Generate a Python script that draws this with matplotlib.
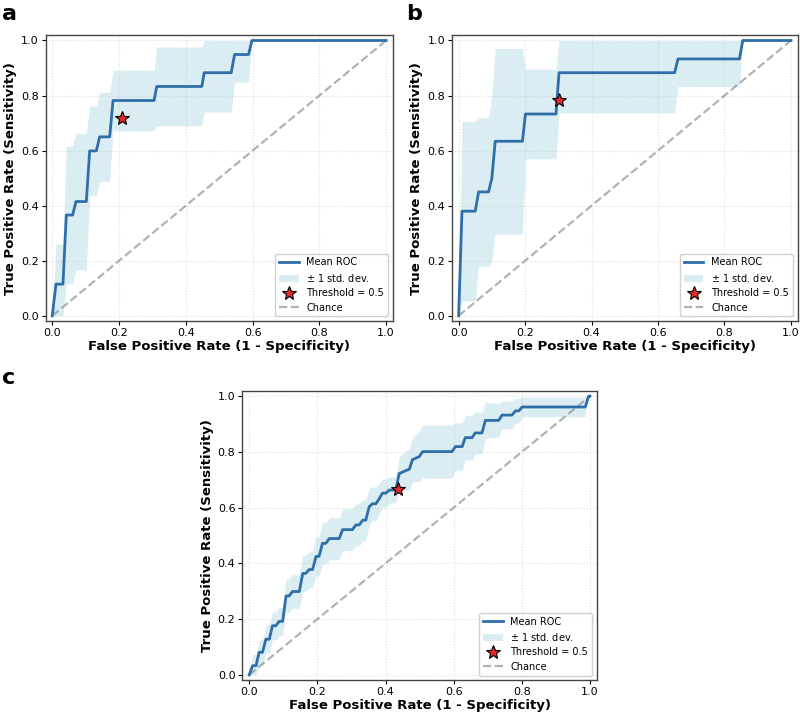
import numpy as np
import matplotlib
matplotlib.use("Agg")
import matplotlib.pyplot as plt

# panel a - mean ROC vertices and std
fpr_a = [0, 0.011, 0.032, 0.042, 0.061, 0.071, 0.102, 0.112, 0.132, 0.142,
         0.172, 0.182, 0.305, 0.313, 0.448, 0.455, 0.536, 0.546, 0.588, 0.598, 1.0]
tpr_a = [0, 0.115, 0.115, 0.366, 0.366, 0.415, 0.415, 0.599, 0.599, 0.650,
         0.650, 0.782, 0.782, 0.833, 0.833, 0.883, 0.883, 0.949, 0.949, 1.0, 1.0]
std_a = [0, 0.145, 0.145, 0.250, 0.250, 0.248, 0.248, 0.163, 0.163, 0.162,
         0.162, 0.110, 0.110, 0.143, 0.143, 0.143, 0.143, 0.100, 0.100, 0, 0]
thr_a = (0.209, 0.717)

# panel b
fpr_b = [0, 0.010, 0.050, 0.060, 0.090, 0.100, 0.110, 0.192, 0.201, 0.293,
         0.302, 0.650, 0.660, 0.845, 0.855, 1.0]
tpr_b = [0, 0.380, 0.380, 0.450, 0.450, 0.500, 0.634, 0.634, 0.733, 0.733,
         0.883, 0.883, 0.933, 0.933, 1.0, 1.0]
std_b = [0, 0.326, 0.326, 0.270, 0.270, 0.300, 0.337, 0.337, 0.163, 0.163,
         0.146, 0.146, 0.100, 0.100, 0, 0]
thr_b = (0.302, 0.784)

# panel c
fpr_c = [0.000, 0.010, 0.020, 0.029, 0.039, 0.049, 0.059, 0.068, 0.078, 0.088,
         0.098, 0.108, 0.117, 0.127, 0.147, 0.157, 0.166, 0.176, 0.186, 0.196,
         0.205, 0.215, 0.225, 0.235, 0.264, 0.274, 0.303, 0.313, 0.323, 0.333,
         0.342, 0.352, 0.362, 0.372, 0.382, 0.391, 0.401, 0.411, 0.430, 0.440,
         0.460, 0.470, 0.479, 0.499, 0.509, 0.595, 0.605, 0.625, 0.634, 0.654,
         0.663, 0.683, 0.693, 0.732, 0.742, 0.771, 0.781, 0.791, 0.801, 0.986,
         0.996, 1.000]
tpr_c = [0.000, 0.033, 0.033, 0.081, 0.081, 0.128, 0.128, 0.176, 0.176, 0.192,
         0.192, 0.283, 0.283, 0.299, 0.299, 0.364, 0.364, 0.378, 0.378, 0.425,
         0.425, 0.472, 0.472, 0.489, 0.489, 0.521, 0.521, 0.538, 0.538, 0.555,
         0.555, 0.603, 0.614, 0.614, 0.633, 0.652, 0.652, 0.663, 0.663, 0.722,
         0.733, 0.738, 0.772, 0.783, 0.801, 0.801, 0.819, 0.819, 0.851, 0.851,
         0.868, 0.868, 0.913, 0.913, 0.932, 0.932, 0.947, 0.947, 0.961, 0.961,
         1.000, 1.000]
std_c = [0.000, 0.040, 0.040, 0.045, 0.045, 0.050, 0.050, 0.050, 0.050, 0.050,
         0.050, 0.060, 0.060, 0.060, 0.060, 0.065, 0.065, 0.065, 0.065, 0.070,
         0.070, 0.075, 0.075, 0.075, 0.075, 0.075, 0.075, 0.075, 0.075, 0.075,
         0.070, 0.065, 0.060, 0.060, 0.055, 0.050, 0.050, 0.048, 0.045, 0.060,
         0.070, 0.075, 0.080, 0.090, 0.095, 0.095, 0.085, 0.085, 0.080, 0.080,
         0.075, 0.075, 0.065, 0.060, 0.050, 0.050, 0.045, 0.045, 0.035, 0.035,
         0.000, 0.000]
thr_c = (0.438, 0.667)

line_col = '#2f6ea8'
band_col = '#add8e6'


def roc_panel(ax, fpr, tpr, std, thr):
    fpr = np.array(fpr); tpr = np.array(tpr); std = np.array(std)
    upper = np.minimum(tpr + std, 1)
    lower = np.maximum(tpr - std, 0)
    ax.plot(fpr, tpr, color=line_col, lw=2.0, label='Mean ROC', zorder=3)
    ax.fill_between(fpr, lower, upper, color=band_col, alpha=0.45, lw=0,
                    label=r'$\pm$ 1 std. dev.', zorder=1)
    ax.plot(thr[0], thr[1], marker='*', ms=10, color='#e02b2b',
            markeredgecolor='black', markeredgewidth=0.8, ls='none',
            label='Threshold = 0.5', zorder=4)
    ax.plot([0, 1], [0, 1], ls='--', color='gray', alpha=0.6, lw=1.6,
            label='Chance', zorder=2)
    ax.set_xlim(-0.02, 1.02)
    ax.set_ylim(-0.02, 1.02)
    ax.set_xticks([0, 0.2, 0.4, 0.6, 0.8, 1.0])
    ax.set_yticks([0, 0.2, 0.4, 0.6, 0.8, 1.0])
    ax.tick_params(labelsize=8, length=3, width=0.8, pad=2)
    ax.grid(True, ls=':', color='#c8c8c8', alpha=0.6, lw=0.8)
    for s in ax.spines.values():
        s.set_color('#444444')
        s.set_linewidth(1.0)
    ax.set_xlabel('False Positive Rate (1 - Specificity)', fontsize=9.5,
                  fontweight='bold', labelpad=1)
    ax.set_ylabel('True Positive Rate (Sensitivity)', fontsize=9.5,
                  fontweight='bold', labelpad=3)
    ax.legend(loc='lower right', fontsize=7, framealpha=0.9,
              borderpad=0.4, labelspacing=0.45, handlelength=2.0)


fig = plt.figure(figsize=(8, 7.14), dpi=100)
ax_a = fig.add_axes([0.057, 0.550, 0.434, 0.401])
ax_b = fig.add_axes([0.565, 0.550, 0.432, 0.401])
ax_c = fig.add_axes([0.303, 0.047, 0.443, 0.406])

roc_panel(ax_a, fpr_a, tpr_a, std_a, thr_a)
roc_panel(ax_b, fpr_b, tpr_b, std_b, thr_b)
roc_panel(ax_c, fpr_c, tpr_c, std_c, thr_c)

fig.text(0.002, 0.995, 'a', fontsize=16, fontweight='bold', va='top')
fig.text(0.508, 0.995, 'b', fontsize=16, fontweight='bold', va='top')
fig.text(0.002, 0.485, 'c', fontsize=16, fontweight='bold', va='top')

fig.savefig('out.png', dpi=100)
